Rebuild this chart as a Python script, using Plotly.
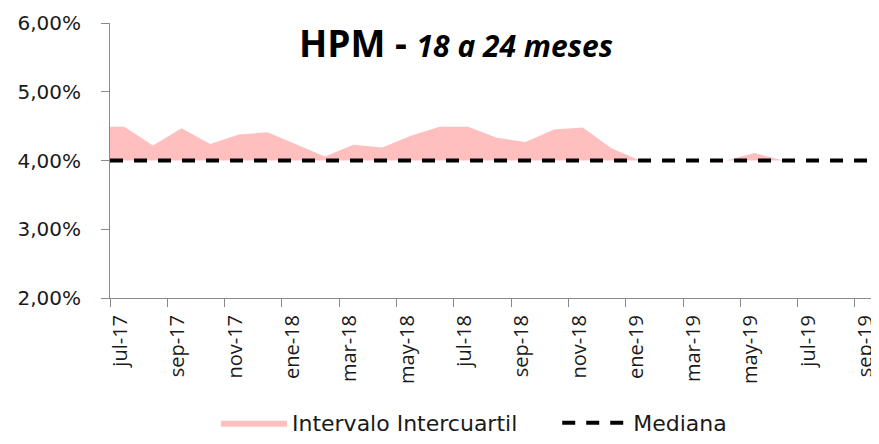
import plotly.graph_objects as go

months = ["jul-17","ago-17","sep-17","oct-17","nov-17","dic-17","ene-18","feb-18","mar-18","abr-18",
          "may-18","jun-18","jul-18","ago-18","sep-18","oct-18","nov-18","dic-18","ene-19","feb-19",
          "mar-19","abr-19","may-19","jun-19","jul-19","ago-19","sep-19"]
q_low = [4.00]*27
q_high = [4.49,4.22,4.47,4.24,4.38,4.41,4.24,4.06,4.23,4.19,
          4.36,4.49,4.49,4.33,4.27,4.45,4.48,4.18,4.00,4.00,
          4.00,4.00,4.11,4.00,4.00,4.00,4.00]
median = [4.00]*27
tick_labels = months[::2]

n = len(months)
idx = list(range(n))
# Excel-style area: extend flat to the category boundaries at both ends
x_ext = [-0.5] + idx + [n - 0.5]
def ext(v):
    return [v[0]] + list(v) + [v[-1]]

PINK = "#FFBFBF"
AXC = "#898989"
FONT = "DejaVu Sans"
TFONT = "Open Sans"
TXT = "#1a1a1a"
NB = "\u00a0"

fig = go.Figure()
fig.add_trace(go.Scatter(x=x_ext, y=[v/100 for v in ext(q_low)], mode="lines",
                         line=dict(width=0, color=PINK), showlegend=False, hoverinfo="skip"))
fig.add_trace(go.Scatter(x=x_ext, y=[v/100 for v in ext(q_high)], mode="lines", fill="tonexty",
                         fillcolor=PINK, line=dict(width=0, color=PINK),
                         name="Intervalo Intercuartil" + NB * 5))
fig.add_trace(go.Scatter(x=x_ext, y=[v/100 for v in ext(median)], mode="lines",
                         line=dict(color="black", width=4, dash="13px,11px"), name="Mediana"))
# invisible trace to activate label axis
fig.add_trace(go.Scatter(x=[0], y=[None], xaxis="x2", showlegend=False, hoverinfo="skip"))

xr = [-0.5, 26.34]
xr_lab = [xr[0] + 0.13, xr[1] + 0.13]  # labels sit slightly left of category centres
# page has an 8px body margin, so the figure is offset by 8px
L, R, T, B = 102, 0, 15, 146
W, H = 871, 436
fig.update_layout(
    width=W, height=H,
    margin=dict(l=L, r=R, t=T, b=B, autoexpand=False),
    paper_bgcolor="white", plot_bgcolor="white",
    font=dict(family=TFONT, size=20, color=TXT),
    showlegend=True,
    legend=dict(orientation="h", traceorder="normal", x=0.535, xref="container", xanchor="center",
                y=-0.028, yref="container", yanchor="bottom", font=dict(size=22, color=TXT, family=FONT),
                itemwidth=66, bgcolor="rgba(0,0,0,0)", tracegroupgap=0),
    xaxis=dict(range=xr, tickvals=[i - 0.5 for i in idx[::2]], ticktext=["" for _ in idx[::2]],
               ticks="outside", ticklen=8, tickcolor=AXC, showline=True, linecolor=AXC, linewidth=1,
               showgrid=False, zeroline=False, automargin=False),
    xaxis2=dict(range=xr_lab, overlaying="x", side="bottom", tickvals=idx[::2], ticktext=tick_labels,
                tickangle=-90, ticks="", showline=False, showgrid=False, zeroline=False,
                tickfont=dict(size=20, color=TXT, family=TFONT), ticklabelstandoff=12,
                ticklabeloverflow="allow", automargin=False),
    yaxis=dict(range=[0.02, 0.06], tickvals=[0.02, 0.03, 0.04, 0.05, 0.06],
               ticktext=["2,00%", "3,00%", "4,00%", "5,00%", "6,00%"],
               ticks="outside", ticklen=8, tickcolor=AXC, showline=True, linecolor=AXC, linewidth=1,
               showgrid=False, zeroline=False, tickfont=dict(size=20, color=TXT, family=FONT),
               ticklabelstandoff=16, automargin=False),
)
pw = W - L - R
ph = H - T - B
fig.add_annotation(text="<b>HPM - </b><b><i><span style='font-size:30px'>18 a 24 meses</span></i></b>",
                   x=(448 - L) / pw, xref="paper", y=(H - B - 34) / ph, yref="paper",
                   xanchor="center", yanchor="middle", showarrow=False,
                   font=dict(size=37, color="black", family=TFONT))

fig.write_html("out.html")
